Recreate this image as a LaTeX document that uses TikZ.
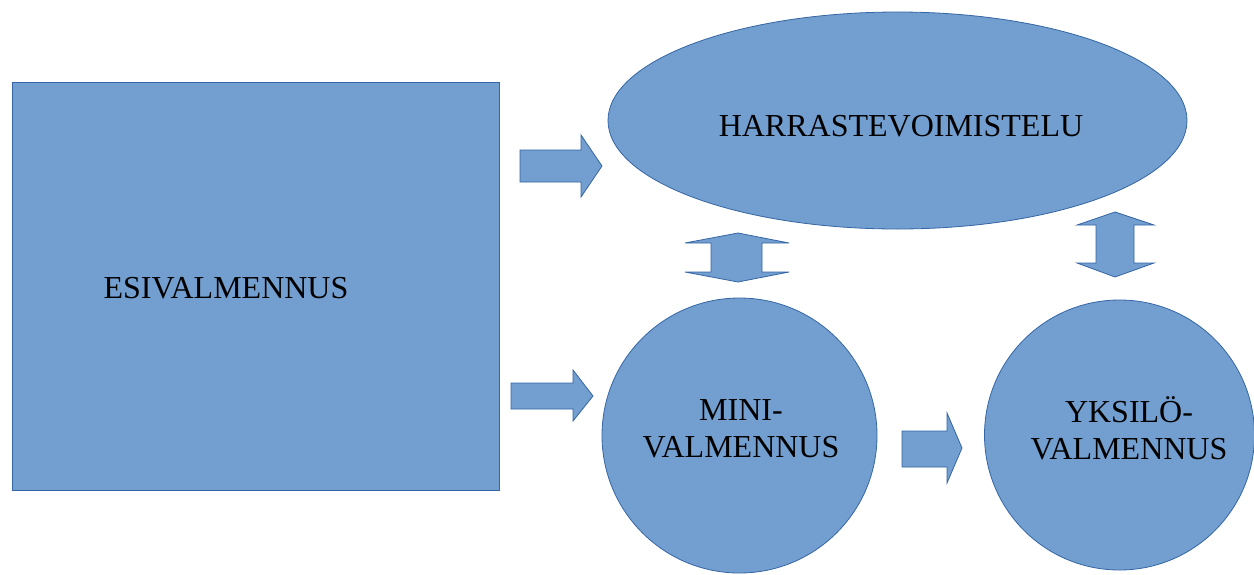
\documentclass[tikz,border=0pt]{standalone}
\usepackage{fontspec}
\setmainfont{Liberation Serif}
\usetikzlibrary{shapes.geometric}
\definecolor{boxfill}{HTML}{729FCF}
\definecolor{boxline}{HTML}{3465A4}
\tikzset{
  blueshape/.style={fill=boxfill,draw=boxline,line width=0.8pt,inner sep=0pt},
  blockarrow/.style={fill=boxfill,draw=boxline,line width=0.8pt,line join=miter},
  label/.style={font=\fontsize{32}{37}\selectfont,inner sep=0pt,align=center,text depth=0pt}
}
\begin{document}
\begin{tikzpicture}[x=1pt,y=-1pt]
\useasboundingbox (0,0) rectangle (1254,574);
% shapes
\node[blueshape,rectangle,minimum width=487pt,minimum height=408pt] (esi) at (255.5,286) {};
\node[blueshape,ellipse,minimum width=579pt,minimum height=217pt] (harr) at (897.5,120.5) {};
\node[blueshape,circle,minimum size=275pt] (mini) at (739.5,435.5) {};
\node[blueshape,circle,minimum size=270pt] (yks) at (1119.5,435) {};
% labels
\node[label] (esiT) at (226,288) {ESIVALMENNUS};
\node[label] (harrT) at (901,126) {HARRASTEVOIMISTELU};
\node[label] (miniT) at (741,429) {MINI-\\VALMENNUS};
\node[label] (yksT) at (1129,428) {YKSILÖ-\\VALMENNUS};
% block arrows
\draw[blockarrow] (520,150) -- (581,150) -- (581,135) -- (602,166) -- (581,197) -- (581,182) -- (520,182) -- cycle;
\draw[blockarrow] (511,383) -- (573,383) -- (573,370) -- (593,396) -- (573,421) -- (573,409) -- (511,409) -- cycle;
\draw[blockarrow] (902,431) -- (947,431) -- (947,413) -- (962,448) -- (947,483) -- (947,467) -- (902,467) -- cycle;
\draw[blockarrow] (738,233) -- (789,243) -- (762,243) -- (762,272) -- (789,272) -- (738,282) -- (685,272) -- (711,272) -- (711,243) -- (685,243) -- cycle;
\draw[blockarrow] (1115,212) -- (1154,225) -- (1134,225) -- (1134,263) -- (1154,263) -- (1115,277) -- (1077,263) -- (1096,263) -- (1096,225) -- (1077,225) -- cycle;
\end{tikzpicture}
\end{document}
